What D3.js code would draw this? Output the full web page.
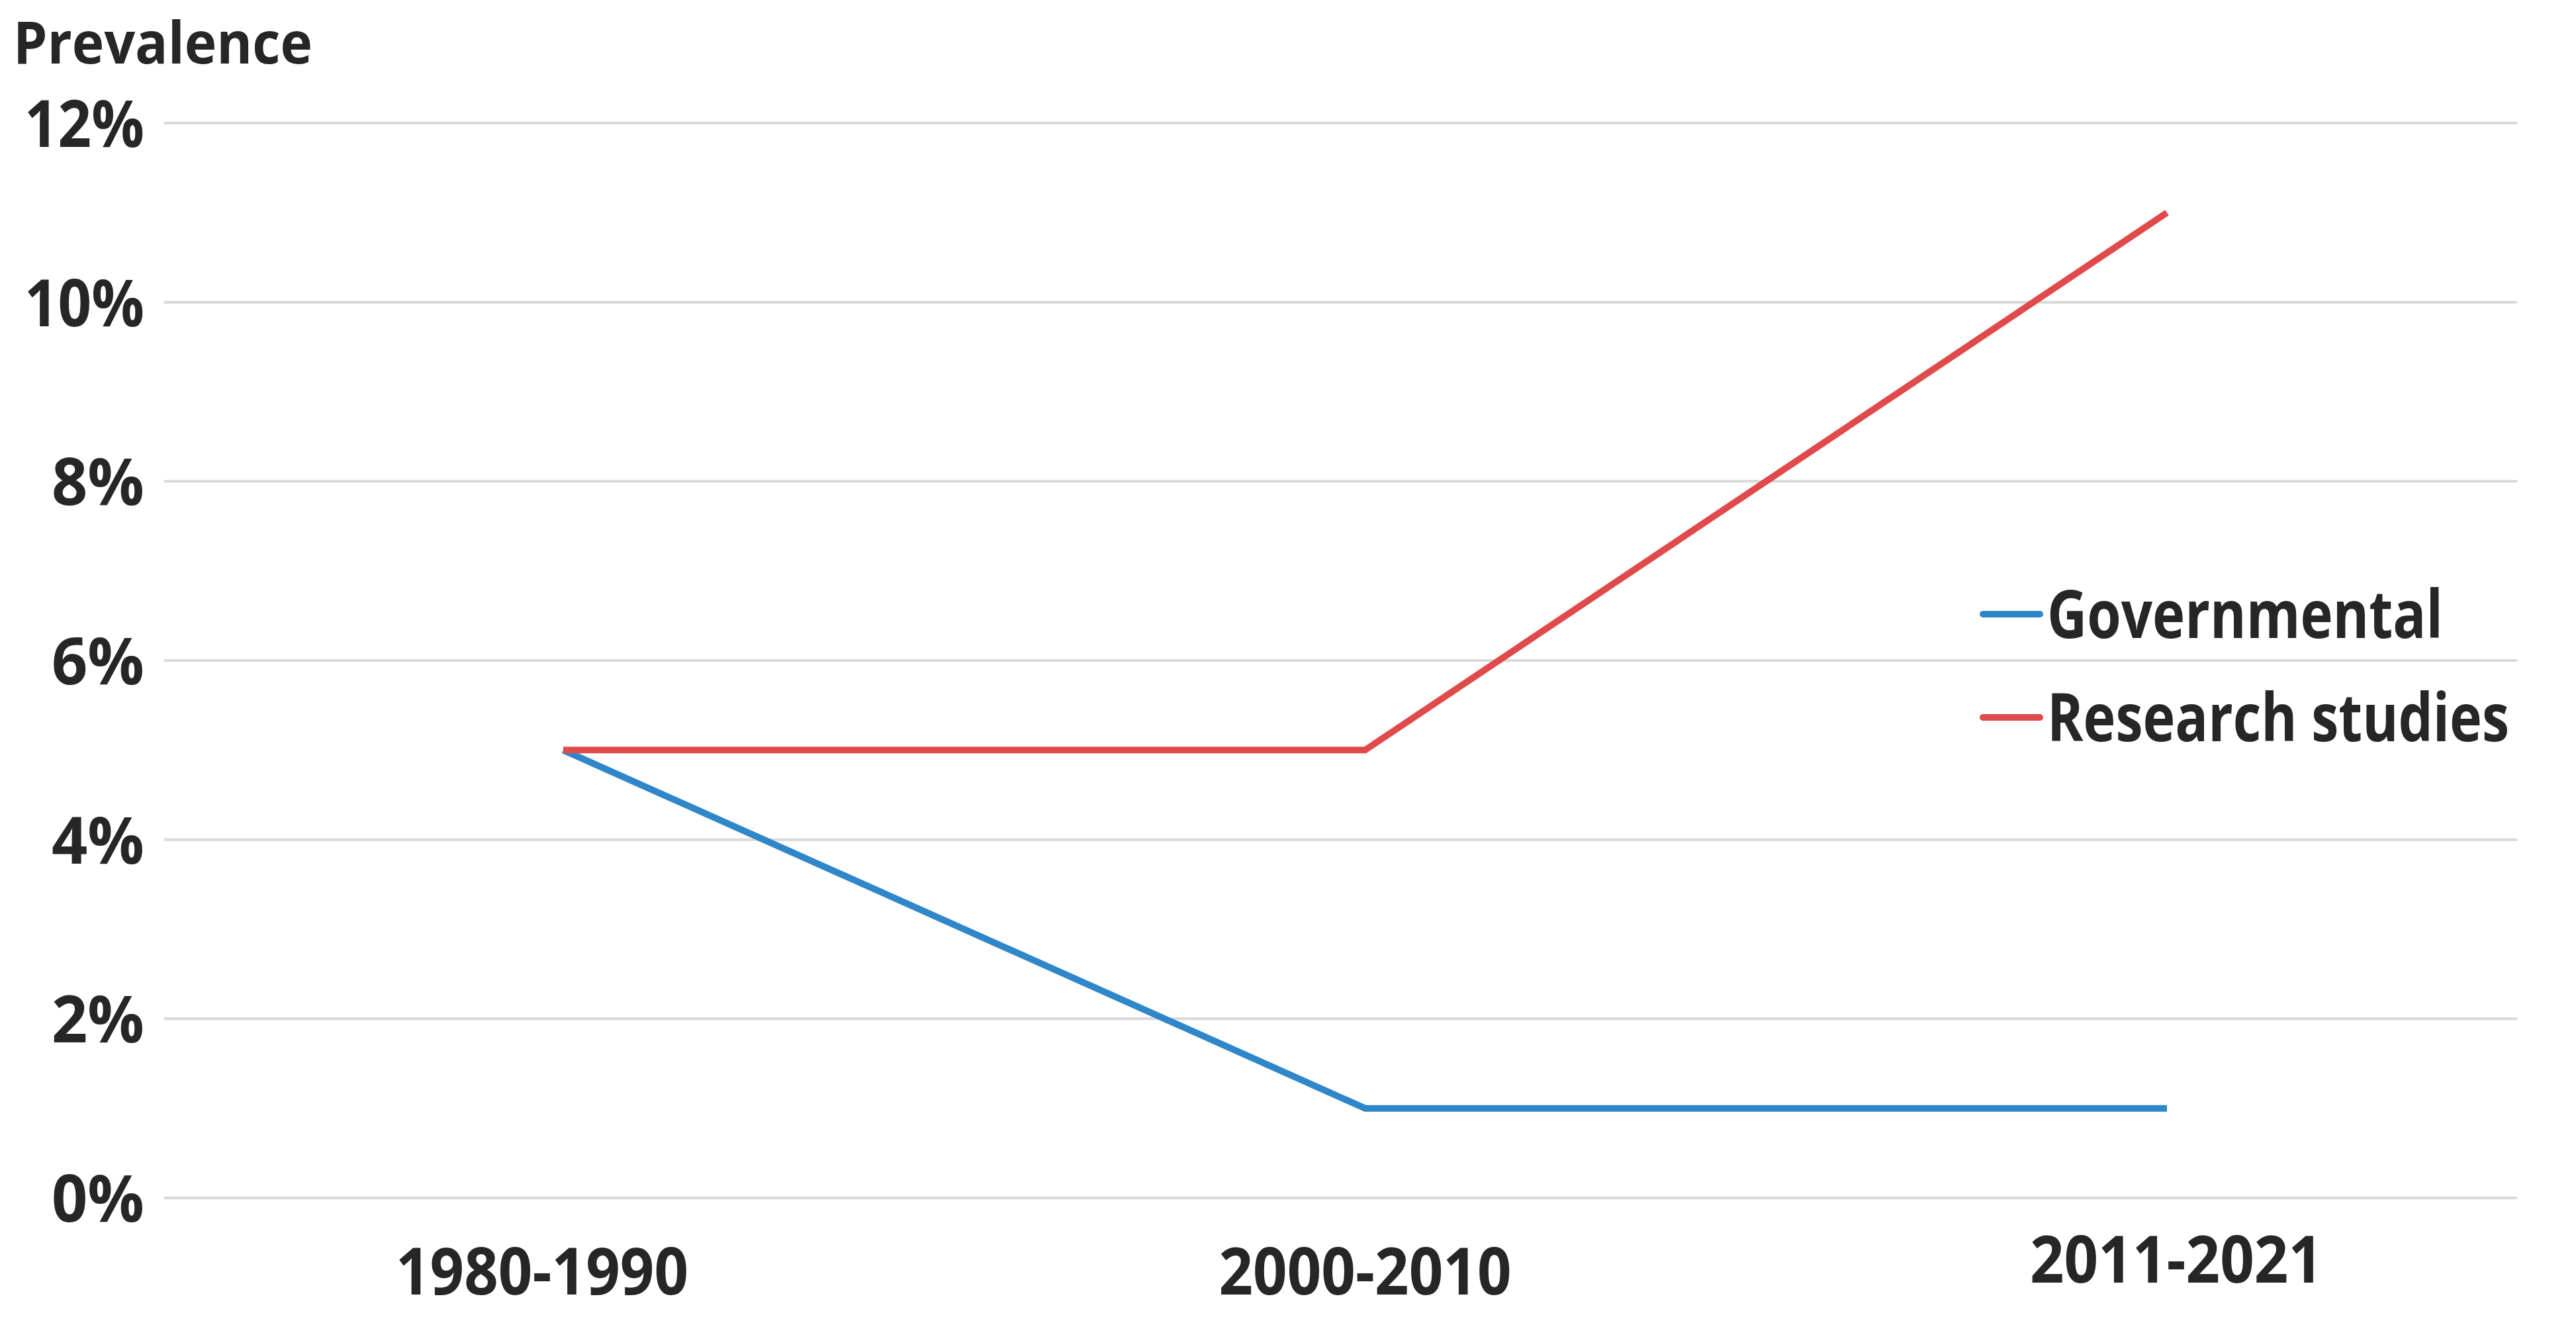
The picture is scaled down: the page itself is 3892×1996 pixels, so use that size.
<!DOCTYPE html><html><head><meta charset="utf-8">
<script src="https://cdn.jsdelivr.net/npm/d3@7"></script>
<style>body{margin:0;background:#fff}text{font-family:"Open Sans",sans-serif;font-weight:700;fill:#262626}</style>
</head><body><svg id="c" width="3892" height="1996"></svg>
<script>
const categories=["1980-1990","2000-2010","2011-2021"];
const governmental=[5,1,1];
const research=[5,5,11];
const yTicks=[0,2,4,6,8,10,12];
const seriesNames=["Governmental","Research studies"];
const colors=["#2f86c8","#e04a4a"];

const svg=d3.select("#c");
const x=d3.scalePoint().domain(categories).range([851,3274]);
const y=d3.scaleLinear().domain([0,12]).range([1810,186]);
svg.selectAll("line.g").data(yTicks).join("line").attr("x1",248).attr("x2",3803)
 .attr("y1",d=>y(d)).attr("y2",d=>y(d)).attr("stroke","#d9d9d9").attr("stroke-width",4);
svg.selectAll("text.y").data(yTicks).join("text").attr("x",218).attr("y",d=>y(d)+36)
 .attr("text-anchor","end").attr("font-size",98)
 .attr("textLength",d=>d>=10?181:140).attr("lengthAdjust","spacingAndGlyphs").text(d=>d+"%");
const xOff=[-32,0,14], xBase=[1956,1956,1938];
svg.selectAll("text.x").data(categories).join("text").attr("x",(d,i)=>x(d)+xOff[i]).attr("y",(d,i)=>xBase[i])
 .attr("text-anchor","middle").attr("font-size",98).attr("textLength",442).attr("lengthAdjust","spacingAndGlyphs").text(d=>d);
svg.append("text").attr("x",20).attr("y",96).attr("font-size",88).attr("textLength",452).attr("lengthAdjust","spacingAndGlyphs").text("Prevalence");
const line=d3.line().x((d,i)=>x(categories[i])).y(d=>y(d));
[governmental,research].forEach((s,k)=>svg.append("path").attr("d",line(s)).attr("fill","none")
 .attr("stroke",colors[k]).attr("stroke-width",10));
const ly=[928,1084], lw=[598,698];
seriesNames.forEach((n,k)=>{
 svg.append("line").attr("x1",2996).attr("x2",3082).attr("y1",ly[k]).attr("y2",ly[k]).attr("stroke",colors[k]).attr("stroke-width",10).attr("stroke-linecap","round");
 svg.append("text").attr("x",3093).attr("y",ly[k]+36).attr("font-size",100).attr("textLength",lw[k]).attr("lengthAdjust","spacingAndGlyphs").text(n);
});
</script></body></html>
